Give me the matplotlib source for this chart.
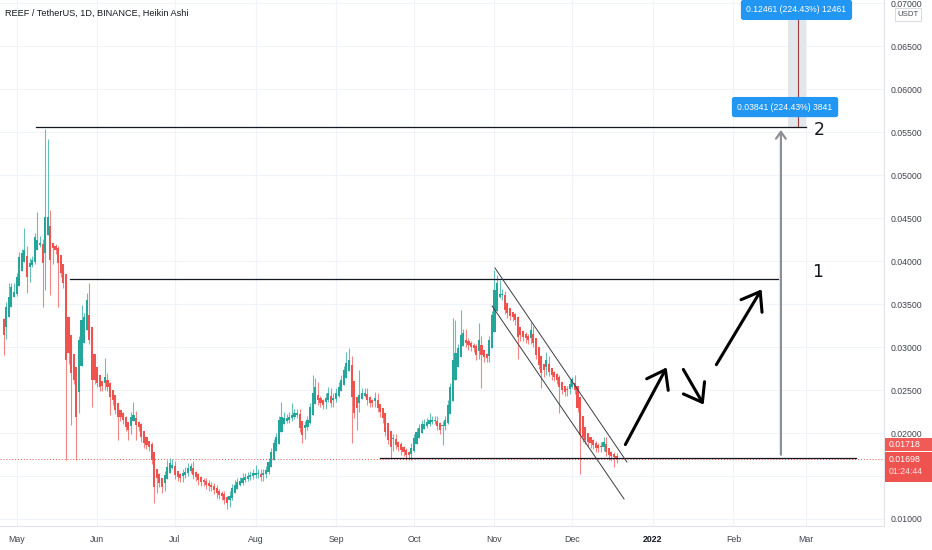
import numpy as np
import matplotlib
matplotlib.use("Agg")
import matplotlib.pyplot as plt
from matplotlib.patches import Rectangle, FancyArrowPatch

# Heikin Ashi daily candles, REEF/USDT, first candle = 26 Apr 2021 (day 0 = 1 May 2021)
FIRST_DAY = -5
FIRST_OPEN = 0.0333

ha_close = [
    .0314, .0347, .0358, .0370, .0364, .0381, .0405, .0409, .0413, .0381,
    .0398, .0401, .0428, .0424, .0421, .0398, .0451, .0451, .0401, .0415,
    .0413, .0398, .0386, .0374, .0285, .0293, .0270, .0262, .0219, .0308,
    .0331, .0335, .0355, .0308, .0262, .0262, .0258, .0254, .0255, .0265,
    .0254, .0242, .0238, .0227, .0219, .0219, .0215, .0207, .0204, .0219,
    .0221, .0209, .0207, .0195, .0188, .0186, .0184, .0169, .0137, .0148,
    .0142, .0137, .0151, .0160, .0165, .0163, .0151, .0149, .0148, .0153,
    .0155, .0159, .0162, .0151, .0149, .0145, .0143, .0143, .0140, .0138,
    .0137, .0134, .0130, .0128, .0127, .0122, .0119, .0127, .0136, .0140,
    .0143, .0144, .0148, .0149, .0150, .0151, .0153, .0153, .0153, .0149,
    .0153, .0157, .0166, .0178, .0188, .0195, .0215, .0219, .0217, .0217,
    .0219, .0221, .0223, .0223, .0206, .0198, .0209, .0215, .0230, .0247,
    .0254, .0238, .0235, .0233, .0241, .0247, .0235, .0241, .0247, .0254,
    .0262, .0273, .0281, .0285, .0242, .0223, .0229, .0244, .0247, .0247,
    .0238, .0235, .0235, .0241, .0229, .0224, .0217, .0201, .0192, .0184,
    .0194, .0186, .0184, .0180, .0178, .0174, .0174, .0183, .0194, .0201,
    .0206, .0210, .0211, .0213, .0215, .0215, .0215, .0208, .0204, .0209,
    .0215, .0233, .0253, .0285, .0293, .0299, .0314, .0316, .0305, .0302,
    .0300, .0299, .0291, .0308, .0291, .0288, .0287, .0308, .0337, .0366,
    .0374, .0362, .0360, .0343, .0339, .0336, .0335, .0331, .0312, .0314,
    .0312, .0310, .0308, .0320, .0305, .0291, .0279, .0270, .0273, .0285,
    .0271, .0267, .0265, .0262, .0254, .0250, .0248, .0250, .0257, .0263,
    .0250, .0229, .0198, .0195, .0192, .0190, .0188, .0186, .0183, .0183,
    .0184, .0190, .0178, .0174, .0173, .0172, .01698,
]

ha_high = [
    .0334, .0352, .0374, .0375, .0375, .0386, .0410, .0414, .0438, .0418,
    .0403, .0406, .0433, .0457, .0429, .0426, .0554, .0542, .0459, .0420,
    .0420, .0418, .0403, .0391, .0379, .0298, .0298, .0275, .0267, .0313,
    .0349, .0340, .0363, .0374, .0313, .0267, .0267, .0263, .0260, .0287,
    .0270, .0259, .0247, .0243, .0232, .0224, .0224, .0220, .0212, .0224,
    .0236, .0226, .0214, .0212, .0200, .0193, .0191, .0189, .0174, .0153,
    .0153, .0147, .0156, .0169, .0171, .0170, .0168, .0156, .0154, .0158,
    .0160, .0165, .0165, .0167, .0156, .0154, .0150, .0148, .0148, .0145,
    .0143, .0142, .0139, .0135, .0133, .0132, .0127, .0132, .0141, .0145,
    .0148, .0149, .0153, .0154, .0155, .0156, .0158, .0163, .0158, .0158,
    .0158, .0162, .0171, .0183, .0193, .0200, .0220, .0236, .0224, .0222,
    .0224, .0235, .0228, .0228, .0228, .0211, .0214, .0220, .0235, .0267,
    .0264, .0259, .0243, .0240, .0246, .0254, .0252, .0246, .0252, .0259,
    .0267, .0278, .0294, .0299, .0290, .0247, .0234, .0273, .0252, .0252,
    .0252, .0243, .0240, .0248, .0246, .0234, .0229, .0222, .0206, .0197,
    .0199, .0199, .0191, .0189, .0185, .0183, .0179, .0188, .0199, .0206,
    .0211, .0215, .0216, .0218, .0223, .0220, .0220, .0220, .0213, .0214,
    .0220, .0238, .0258, .0334, .0331, .0304, .0343, .0321, .0321, .0310,
    .0307, .0305, .0304, .0328, .0313, .0296, .0293, .0313, .0342, .0390,
    .0384, .0378, .0367, .0365, .0348, .0344, .0341, .0340, .0336, .0319,
    .0319, .0317, .0315, .0329, .0325, .0310, .0296, .0284, .0278, .0294,
    .0290, .0276, .0272, .0270, .0267, .0259, .0255, .0255, .0262, .0265,
    .0268, .0255, .0234, .0203, .0200, .0197, .0195, .0193, .0191, .0188,
    .0189, .0195, .0195, .0183, .0179, .0178, .0177,
]

ha_low = [
    .0291, .0309, .0342, .0353, .0359, .0359, .0376, .0400, .0404, .0363,
    .0376, .0393, .0396, .0419, .0416, .0347, .0366, .0446, .0361, .0396,
    .0408, .0347, .0381, .0369, .0169, .0280, .0209, .0257, .0169, .0223,
    .0303, .0326, .0330, .0303, .0230, .0257, .0253, .0249, .0249, .0250,
    .0249, .0221, .0233, .0222, .0192, .0214, .0210, .0202, .0192, .0199,
    .0214, .0192, .0202, .0190, .0183, .0181, .0179, .0164, .0119, .0130,
    .0137, .0130, .0132, .0146, .0155, .0158, .0146, .0144, .0143, .0143,
    .0148, .0150, .0154, .0146, .0144, .0140, .0138, .0138, .0135, .0133,
    .0132, .0129, .0125, .0123, .0122, .0117, .0112, .0114, .0122, .0131,
    .0135, .0138, .0139, .0143, .0144, .0145, .0146, .0148, .0148, .0144,
    .0144, .0148, .0152, .0161, .0173, .0183, .0190, .0210, .0212, .0212,
    .0212, .0214, .0216, .0218, .0201, .0188, .0193, .0204, .0210, .0225,
    .0242, .0233, .0230, .0228, .0228, .0236, .0230, .0230, .0236, .0242,
    .0249, .0257, .0268, .0276, .0188, .0218, .0204, .0224, .0239, .0242,
    .0233, .0230, .0230, .0230, .0224, .0219, .0212, .0196, .0187, .0171,
    .0179, .0181, .0179, .0175, .0173, .0169, .0169, .0169, .0178, .0189,
    .0196, .0201, .0205, .0206, .0208, .0210, .0210, .0203, .0199, .0186,
    .0204, .0210, .0228, .0248, .0280, .0288, .0294, .0309, .0300, .0297,
    .0295, .0294, .0285, .0286, .0252, .0283, .0282, .0282, .0303, .0332,
    .0361, .0357, .0355, .0338, .0334, .0331, .0330, .0326, .0286, .0307,
    .0307, .0305, .0303, .0303, .0300, .0286, .0274, .0252, .0265, .0268,
    .0266, .0262, .0260, .0257, .0223, .0245, .0243, .0243, .0245, .0252,
    .0245, .0224, .0152, .0190, .0187, .0185, .0183, .0181, .0178, .0178,
    .0178, .0179, .0173, .0169, .0168, .0161, .0165,
]

# axis
month_days = [0, 31, 61, 92, 123, 153, 184, 214, 245, 276, 304]
month_labels = ["May", "Jun", "Jul", "Aug", "Sep", "Oct", "Nov", "Dec", "2022", "Feb", "Mar"]
price_ticks = [0.010, 0.015, 0.020, 0.025, 0.030, 0.035, 0.040, 0.045,
               0.050, 0.055, 0.060, 0.065, 0.070]

# drawings (day, price)
top_level = 0.05556
level_1 = 0.03791
base_level = 0.01715
last_price = 0.01698
prev_close = 0.01718
top_line_days = (7.5, 304.0)
level_1_days = (20.6, 293.2)
base_line_days = (139.9, 323.2)
measure_day = 294.3
channel_upper = [(184.2, 0.03919), (235.0, 0.01663)]
channel_lower = [(183.1, 0.03477), (233.9, 0.01233)]
path_arrows = [
    [(233.9, 0.01837), (250.8, 0.02791)],
    [(256.2, 0.02767), (265.1, 0.02302)],
    [(268.9, 0.02767), (287.4, 0.03698)],
]

UP = "#26a69a"
DOWN = "#ef5350"
FONT = "Liberation Sans"

n = len(ha_close)
days = np.arange(n) + FIRST_DAY
closes = np.array(ha_close)
opens = np.empty(n)
opens[0] = FIRST_OPEN
for i in range(1, n):
    opens[i] = (opens[i - 1] + closes[i - 1]) / 2
highs = np.maximum.reduce([np.array(ha_high), opens, closes])
lows = np.minimum.reduce([np.array(ha_low), opens, closes])
colors = np.where(closes >= opens, UP, DOWN)

W, H = 932, 550
fig = plt.figure(figsize=(W / 100, H / 100), dpi=100)
ax = fig.add_axes([0, 24 / H, 884 / W, 526 / H])
ax.set_xlim(-6.39, 334.0)
ax.set_ylim(0.009186, 0.07035)

# grid
ax.set_xticks(month_days)
ax.set_xticklabels(month_labels)
ax.set_yticks(price_ticks)
ax.set_yticklabels(["%.5f" % p for p in price_ticks])
ax.grid(True, color="#f0f3fa", lw=0.8)
ax.set_axisbelow(True)
ax.yaxis.tick_right()
ax.tick_params(axis="both", length=0, labelsize=6.3, labelcolor="#3f434d")
ax.tick_params(axis="y", pad=5)
ax.tick_params(axis="x", pad=6.5)
for lab in ax.get_xticklabels() + ax.get_yticklabels():
    lab.set_family(FONT)
    if lab.get_text() == "2022":
        lab.set_fontweight("bold")
        lab.set_color("#131722")
for s in ["top", "left"]:
    ax.spines[s].set_visible(False)
for s in ["right", "bottom"]:
    ax.spines[s].set_color("#e0e3eb")
    ax.spines[s].set_linewidth(0.8)

# candles
ax.vlines(days, lows, highs, colors=colors, lw=0.8, alpha=0.7, zorder=2)
body_lo = np.minimum(opens, closes)
body_h = np.maximum(np.abs(closes - opens), 0.00012)
ax.bar(days, body_h, bottom=body_lo, width=0.82, color=colors, lw=0, zorder=3)

# last price dotted line
ax.axhline(last_price, color=DOWN, lw=0.7, ls=(0, (1, 2)), zorder=1)

# horizontal levels
ax.plot(top_line_days, [top_level] * 2, color="#131722", lw=0.9, zorder=4)
ax.plot(level_1_days, [level_1] * 2, color="#131722", lw=0.9, zorder=4)
ax.plot(base_line_days, [base_level] * 2, color="#131722", lw=0.9, zorder=4)

# channel
for seg in (channel_upper, channel_lower):
    ax.plot([seg[0][0], seg[1][0]], [seg[0][1], seg[1][1]], color="#3a3d45", lw=0.7, zorder=4)

# measuring arrow
ax.add_patch(FancyArrowPatch((measure_day, base_level), (measure_day, top_level),
                             arrowstyle="->,head_length=0.35,head_width=0.25",
                             mutation_scale=14, color="#8c8f96", lw=1.6, zorder=4))
ax.text(308.6, 0.03872, "1", fontsize=12.5, ha="center", va="center", color="#131722")
ax.text(309.0, 0.05523, "2", fontsize=12.5, ha="center", va="center", color="#131722")

# projected moves
for (x0, y0), (x1, y1) in path_arrows:
    ax.add_patch(FancyArrowPatch((x0, y0), (x1, y1),
                                 arrowstyle="->,head_length=0.55,head_width=0.4",
                                 mutation_scale=22, color="black", lw=2.2, zorder=5))

# long-position range tool above the chart
ax.add_patch(Rectangle((297.0, top_level), 6.9, 0.0705 - top_level,
                       facecolor="#dfe5ea", edgecolor="none", alpha=0.9, zorder=1))
ax.plot([300.7, 300.7], [top_level, 0.0680], color="#9b3b3b", lw=0.8, zorder=2)
box = dict(boxstyle="round,pad=0.65,rounding_size=0.3", fc="#2196f3", ec="none")
ax.text(300.3, 0.0692, "0.12461 (224.43%) 12461", fontsize=6.2, color="white",
        ha="center", va="center", family=FONT, bbox=box, zorder=6)
ax.text(295.9, 0.0579, "0.03841 (224.43%) 3841", fontsize=6.2, color="white",
        ha="center", va="center", family=FONT, bbox=box, zorder=6)

# title
fig.text(5 / W, 1 - 13 / H, "REEF / TetherUS, 1D, BINANCE, Heikin Ashi",
         fontsize=6.6, family=FONT, color="#131722", va="center", ha="left")

# price scale labels
def px_rect(x0, y0, x1, y1, fc, ec="none"):
    fig.add_artist(Rectangle((x0 / W, 1 - y1 / H), (x1 - x0) / W, (y1 - y0) / H,
                             transform=fig.transFigure, facecolor=fc, edgecolor=ec, lw=0.6))

px_rect(885, 438, 932, 451, "#f05b58")
px_rect(885, 452, 932, 482, DOWN)
fig.text(889 / W, 1 - 444.5 / H, "%.5f" % prev_close, fontsize=6.3, family=FONT,
         color="white", va="center")
fig.text(889 / W, 1 - 459.5 / H, "%.5f" % last_price, fontsize=6.3, family=FONT,
         color="white", va="center")
fig.text(889 / W, 1 - 471.5 / H, "01:24:44", fontsize=6.3, family=FONT,
         color="#ffe0df", va="center")
px_rect(895, 8, 921, 21, "white", "#d1d4dc")
fig.text(908 / W, 1 - 14.5 / H, "USDT", fontsize=5.6, family=FONT,
         color="#4a4e59", va="center", ha="center")

fig.savefig("out.png", dpi=100, facecolor="white")
